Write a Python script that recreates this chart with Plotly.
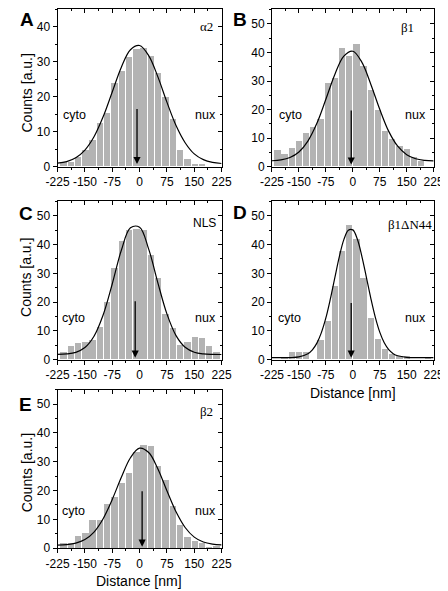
import plotly.graph_objects as go

# ---------------- data ----------------
bin_centers = [-210, -190, -170, -150, -130, -110, -90, -70, -50, -30, -10,
               10, 30, 50, 70, 90, 110, 130, 150, 170, 190, 210]

counts_alpha2 = [1.1, 1.3, 2.8, 4.7, 7.5, 12.4, 15.4, 23.8, 27.4, 31.4, 33.7,
                 33.8, 31.7, 26.8, 19.7, 13.4, 4.8, 2.1, 0.8, 0.7, 0, 0]
counts_beta1 = [5.7, 4.3, 6.4, 8.8, 11.6, 13.9, 16.7, 29.2, 31.0, 41.3, 38.6,
                42.9, 35.0, 26.7, 19.7, 12.4, 9.7, 7.1, 5.9, 3.4, 1.7, 0]
counts_nls = [2.5, 4.5, 5.6, 5.9, 6.8, 11.1, 19.9, 31.7, 41.2, 44.9, 45.2,
              44.9, 36.3, 28.4, 15.9, 10.8, 5.1, 6.1, 7.8, 7.5, 4.5, 2.5]
counts_b1dn44 = [0, 0.9, 2.4, 2.4, 2.4, 0, 6.6, 13.4, 25.5, 37.8, 46.6,
                 41.8, 28.3, 14.5, 7.0, 3.7, 2.0, 1.3, 1.3, 0, 0, 0.9]
counts_beta2 = [1.9, 1.9, 4.3, 5.3, 9.7, 9.9, 15.3, 17.7, 22.6, 26.3, 33.5,
                35.9, 35.6, 28.6, 23.7, 14.6, 8.0, 4.1, 2.5, 1.7, 0.5, 0.9]

# fitted curves, values
fit_x = [-225, -200, -175, -150, -125, -100, -75, -50, -25, 0,
         25, 50, 75, 100, 125, 150, 175, 200, 225]
fit_alpha2 = [1.05, 1.5, 2.6, 4.8, 8.6, 14.3, 21.4, 28.5, 33.5, 34.7,
              31.8, 25.8, 18.5, 11.8, 6.9, 3.7, 2.05, 1.28, 0.96]
fit_beta1 = [2.13, 2.43, 3.26, 5.2, 9.0, 15.2, 23.6, 32.3, 38.7, 40.4,
             36.6, 28.9, 20.1, 12.4, 7.2, 4.24, 2.83, 2.27, 2.07]
fit_nls = [1.84, 2.0, 2.56, 4.21, 8.13, 15.5, 26.3, 38.0, 45.8, 46.0,
           38.4, 26.8, 15.9, 8.36, 4.32, 2.6, 2.01, 1.84, 1.8]
fit_beta2 = [1.06, 1.23, 1.73, 2.97, 5.57, 10.2, 16.9, 24.6, 31.4, 34.7,
             33.2, 27.6, 19.9, 12.6, 7.15, 3.81, 2.1, 1.38, 1.11]
fit_x_d = [-225, -200, -175, -150, -125, -112.5, -100, -87.5, -75, -62.5,
           -50, -37.5, -25, -12.5, 0, 12.5, 25, 37.5, 50, 62.5, 75, 87.5,
           100, 112.5, 125, 150, 175, 200, 225]
fit_b1dn44 = [0.7, 0.7, 0.74, 0.97, 2.06, 3.42, 5.75, 9.4, 14.5, 21.1,
              28.5, 35.8, 41.7, 45.0, 45.1, 41.9, 36.0, 28.8, 21.4, 14.8,
              9.57, 5.87, 3.5, 2.1, 1.35, 0.81, 0.71, 0.7, 0.7]

# arrow (mean position) per panel: x, top, tip
arrow_x = [-7, -4.4, -12, -4.5, 7]
arrow_top = [17, 20.2, 20.8, 20.2, 20.3]
arrow_tip = [0.8, 0.8, 0.7, 0.7, 0.5]

panel_letters = ["A", "B", "C", "D", "E"]
panel_names = ["\u03b12", "\u03b21", "NLS", "\u03b21\u0394N44", "\u03b22"]
x_tick_vals = [-225, -150, -75, 0, 75, 150, 225]
x_tick_text = ["-225", "-150", "-75", "0", "75", "150", "225"]
y_max = [45, 55, 55, 55, 55]

counts_all = [counts_alpha2, counts_beta1, counts_nls, counts_b1dn44, counts_beta2]
fits_x = [fit_x, fit_x, fit_x, fit_x_d, fit_x]
fits_y = [fit_alpha2, fit_beta1, fit_nls, fit_b1dn44, fit_beta2]

# ---------------- layout geometry (pixels of a 448x591 page) ----------------
W, H = 448, 591
left_col = (39.5, 212)
right_col = (265, 435)
rows = [(0.5, 160), (195, 355.5), (386, 546.5)]
panel_boxes = [
    (left_col, rows[0]), (right_col, rows[0]),
    (left_col, rows[1]), (right_col, rows[1]),
    (left_col, rows[2]),
]

def xdom(c):
    return [c[0] / W, c[1] / W]

def ydom(r):
    return [1 - r[1] / H, 1 - r[0] / H]

name_pos = [(184, 40), (152, 48.7), (178, 47.5), (160, 47), (184, 47.5)]
cyto_pos = [(-178, 14.7), (-173, 18.1), (-181, 14.5), (-175, 14.5), (-181, 12.9)]
nux_pos = [(181, 14.7), (175, 18.1), (179.5, 14.5), (175, 14.5), (179.5, 12.9)]
letter_px = [(7, 11), (231, 11), (6, 207), (231, 206), (6, 401)]

SANS = "Liberation Sans, Arial, sans-serif"
SERIF = "Liberation Serif, Times New Roman, serif"
BAR_COLOR = "#b3b3b3"

fig = go.Figure()
annotations = []
layout = dict(
    width=W, height=H, margin=dict(l=0, r=0, t=0, b=0),
    paper_bgcolor="white", plot_bgcolor="white", showlegend=False,
    bargap=0,
)

for i in range(5):
    n = i + 1
    xs, ys = f"x{n}", f"y{n}"
    fig.add_trace(go.Bar(
        x=bin_centers, y=counts_all[i], width=17.5,
        marker=dict(color=BAR_COLOR, line=dict(width=0)),
        xaxis=xs, yaxis=ys, hoverinfo="skip",
    ))
    fig.add_trace(go.Scatter(
        x=fits_x[i], y=fits_y[i], mode="lines",
        line=dict(color="black", width=1.2, shape="spline", smoothing=1.0),
        xaxis=xs, yaxis=ys, hoverinfo="skip",
    ))
    # empty trace so the mirrored (top/right) axes are rendered
    fig.add_trace(go.Scatter(
        x=[None], y=[None], mode="markers", marker=dict(opacity=0),
        xaxis=f"x{n + 5}", yaxis=f"y{n + 5}", hoverinfo="skip",
    ))
    (cx, cy) = panel_boxes[i]
    common_x = dict(range=[-225, 225], showgrid=False, zeroline=False,
                    showline=True, linecolor="black", linewidth=1,
                    tickmode="array", tickvals=x_tick_vals,
                    tickcolor="black", tickwidth=1, ticklen=4)
    common_y = dict(range=[0, y_max[i]], showgrid=False, zeroline=False,
                    showline=True, linecolor="black", linewidth=1,
                    tickmode="linear", tick0=0, dtick=10,
                    tickcolor="black", tickwidth=1, ticklen=4)
    layout[f"xaxis{n}"] = dict(
        common_x, domain=xdom(cx), anchor=ys, ticks="outside", mirror=True,
        ticktext=x_tick_text, tickfont=dict(family=SANS, size=12, color="black"),
        minor=dict(ticks="outside", ticklen=2, tickmode="linear", tick0=-225,
                   dtick=37.5, tickcolor="black"),
    )
    layout[f"yaxis{n}"] = dict(
        common_y, domain=ydom(cy), anchor=xs, ticks="outside", mirror=True,
        tickfont=dict(family=SANS, size=12, color="black"),
        minor=dict(ticks="outside", ticklen=2, tickmode="linear", tick0=0,
                   dtick=5, tickcolor="black"),
    )
    # mirrored axes (top / right) with inward ticks
    layout[f"xaxis{n + 5}"] = dict(
        common_x, overlaying=xs, anchor=ys, side="top", ticks="inside",
        showticklabels=False,
        minor=dict(ticks="inside", ticklen=2, tickmode="linear", tick0=-225,
                   dtick=37.5, tickcolor="black"),
    )
    layout[f"yaxis{n + 5}"] = dict(
        common_y, overlaying=ys, anchor=xs, side="right", ticks="inside",
        showticklabels=False,
        minor=dict(ticks="inside", ticklen=2, tickmode="linear", tick0=0,
                   dtick=5, tickcolor="black"),
    )

    # arrow
    annotations.append(dict(
        x=arrow_x[i], y=arrow_tip[i], ax=arrow_x[i], ay=arrow_top[i],
        xref=xs, yref=ys, axref=xs, ayref=ys, text="", showarrow=True,
        arrowhead=2, arrowsize=1.1, arrowwidth=1.3, arrowcolor="black",
    ))
    # labels
    nm_font = SANS if panel_names[i] == "NLS" else SERIF
    annotations.append(dict(
        x=name_pos[i][0], y=name_pos[i][1], xref=xs, yref=ys,
        text=panel_names[i], showarrow=False,
        font=dict(family=nm_font, size=13 if nm_font == SERIF else 12, color="black"),
    ))
    annotations.append(dict(
        x=cyto_pos[i][0], y=cyto_pos[i][1], xref=xs, yref=ys, text="cyto",
        showarrow=False, font=dict(family=SANS, size=12.5, color="black"),
    ))
    annotations.append(dict(
        x=nux_pos[i][0], y=nux_pos[i][1], xref=xs, yref=ys, text="nux",
        showarrow=False, font=dict(family=SANS, size=12.5, color="black"),
    ))
    lx, ly = letter_px[i]
    annotations.append(dict(
        x=lx / W, y=1 - ly / H, xref="paper", yref="paper",
        text=f"<b>{panel_letters[i]}</b>", showarrow=False,
        xanchor="center", yanchor="middle",
        font=dict(family=SANS, size=19, color="black"),
    ))

# axis titles
for (py) in [85, 272, 470]:
    annotations.append(dict(
        x=7 / W, y=1 - py / H, xref="paper", yref="paper",
        text="Counts [a.u.]", textangle=-90, showarrow=False,
        xanchor="center", yanchor="middle",
        font=dict(family=SANS, size=14, color="black"),
    ))
for (px, py) in [(350, 389), (125, 580)]:
    annotations.append(dict(
        x=px / W, y=1 - py / H, xref="paper", yref="paper",
        text="Distance [nm]", showarrow=False,
        xanchor="center", yanchor="middle",
        font=dict(family=SANS, size=14, color="black"),
    ))

layout["annotations"] = annotations
fig.update_layout(**layout)
fig.write_html("out.html")
